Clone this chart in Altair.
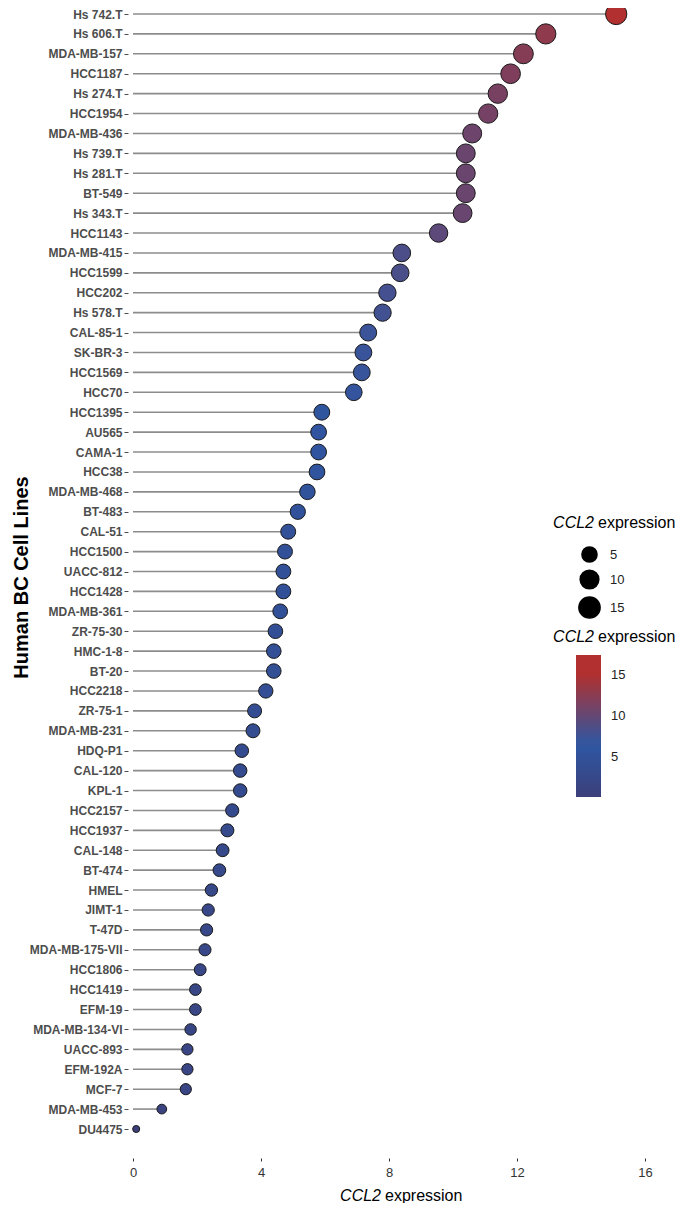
import altair as alt
import pandas as pd

cell_lines = [
    "Hs 742.T", "Hs 606.T", "MDA-MB-157", "HCC1187", "Hs 274.T", "HCC1954",
    "MDA-MB-436", "Hs 739.T", "Hs 281.T", "BT-549", "Hs 343.T", "HCC1143",
    "MDA-MB-415", "HCC1599", "HCC202", "Hs 578.T", "CAL-85-1", "SK-BR-3",
    "HCC1569", "HCC70", "HCC1395", "AU565", "CAMA-1", "HCC38", "MDA-MB-468",
    "BT-483", "CAL-51", "HCC1500", "UACC-812", "HCC1428", "MDA-MB-361",
    "ZR-75-30", "HMC-1-8", "BT-20", "HCC2218", "ZR-75-1", "MDA-MB-231",
    "HDQ-P1", "CAL-120", "KPL-1", "HCC2157", "HCC1937", "CAL-148", "BT-474",
    "HMEL", "JIMT-1", "T-47D", "MDA-MB-175-VII", "HCC1806", "HCC1419",
    "EFM-19", "MDA-MB-134-VI", "UACC-893", "EFM-192A", "MCF-7", "MDA-MB-453",
    "DU4475",
]
ccl2_expression = [
    15.1, 12.9, 12.2, 11.8, 11.4, 11.1,
    10.6, 10.4, 10.4, 10.4, 10.3, 9.55,
    8.4, 8.35, 7.95, 7.8, 7.35, 7.2,
    7.15, 6.9, 5.9, 5.8, 5.8, 5.75, 5.45,
    5.15, 4.85, 4.75, 4.7, 4.7, 4.6,
    4.45, 4.4, 4.4, 4.15, 3.8, 3.75,
    3.4, 3.35, 3.35, 3.1, 2.95, 2.8, 2.7,
    2.45, 2.35, 2.3, 2.25, 2.1, 1.95,
    1.95, 1.8, 1.7, 1.7, 1.65, 0.9,
    0.1,
]
x_ticks = [0, 4, 8, 12, 16]
legend_values = [5, 10, 15]

df = pd.DataFrame({"line": cell_lines, "value": ccl2_expression})

FONT = "Liberation Sans"

y_enc = alt.Y(
    "line:N",
    sort=cell_lines,
    scale=alt.Scale(type="point", padding=0),
    axis=alt.Axis(
        title="Human BC Cell Lines",
        titleFont=FONT, titleFontSize=20, titleFontWeight="bold", titleColor="black",
        titleAngle=-90, titleX=-107, titleY=563, titleAlign="center", titleBaseline="middle",
        labelFont=FONT, labelFontSize=12, labelFontWeight="bold", labelColor="#4d4d4d",
        labelPadding=2, tickSize=4, tickColor="#4d4d4d", tickWidth=1,
        domain=False, grid=False,
    ),
)

x_scale = alt.Scale(domain=[-0.15625, 16.40625], nice=False, zero=False)

base = alt.Chart(df)

rules = base.mark_rule(color="#8c8c8c", strokeWidth=1.6).transform_calculate(
    zero="0"
).encode(
    x=alt.X(
        "zero:Q",
        scale=x_scale,
        axis=alt.Axis(
            title=None, values=x_ticks, format="d",
            labelFont=FONT, labelFontSize=13, labelColor="#333333", labelPadding=5,
            tickSize=3, tickColor="#333333", tickWidth=1,
            domain=False, grid=False, offset=29,
        ),
    ),
    x2="value:Q",
    y=y_enc,
)

points = base.mark_circle(stroke="#1a1a1a", strokeWidth=1, opacity=1).encode(
    x=alt.X("value:Q", scale=x_scale),
    y=y_enc,
    color=alt.Color(
        "value:Q",
        scale=alt.Scale(
            domain=[0.1, 6.5, 15.1, 17.4],
            range=["#3c3f7a", "#2e57a3", "#b2302f", "#b2302f"],
            interpolate="rgb",
        ),
        legend=alt.Legend(
            title=None, orient="none", legendX=448, legendY=641,
            type="gradient", direction="vertical",
            gradientLength=142, gradientThickness=25, gradientStrokeWidth=0,
            values=legend_values, labelFont=FONT, labelFontSize=13,
            labelColor="#222222", labelOffset=10, padding=0,
        ),
    ),
    size=alt.Size(
        "value:Q",
        scale=alt.Scale(type="pow", exponent=0.7, domain=[0.1, 15.1], range=[50, 452]),
        legend=alt.Legend(
            title=None, orient="none", legendX=450, legendY=532,
            values=legend_values, symbolFillColor="black", symbolStrokeColor="black",
            symbolOpacity=1, symbolType="circle",
            labelFont=FONT, labelFontSize=13, labelColor="#222222",
            labelOffset=9, rowPadding=1, padding=0,
        ),
    ),
)

title_df = alt.Data(values=[{}])


def italic_title(x_right, y):
    a = alt.Chart(title_df).mark_text(
        text="CCL2", font=FONT, fontSize=16, fontStyle="italic", align="right",
        baseline="middle", color="black",
    ).encode(x=alt.value(x_right), y=alt.value(y))
    b = alt.Chart(title_df).mark_text(
        text="expression", font=FONT, fontSize=16, align="left",
        baseline="middle", color="black",
    ).encode(x=alt.value(x_right + 4), y=alt.value(y))
    return [a, b]


texts = italic_title(253, 1182) + italic_title(466, 509) + italic_title(466, 623)

chart = alt.layer(rules, points, *texts).properties(
    width=530,
    height=1115,
    autosize=alt.AutoSizeParams(type="none"),
    padding={"left": 120, "top": 6, "right": 19, "bottom": 74},
).configure_view(strokeWidth=0)

chart.save("out.html", embed_options={"renderer": "svg", "actions": False})
